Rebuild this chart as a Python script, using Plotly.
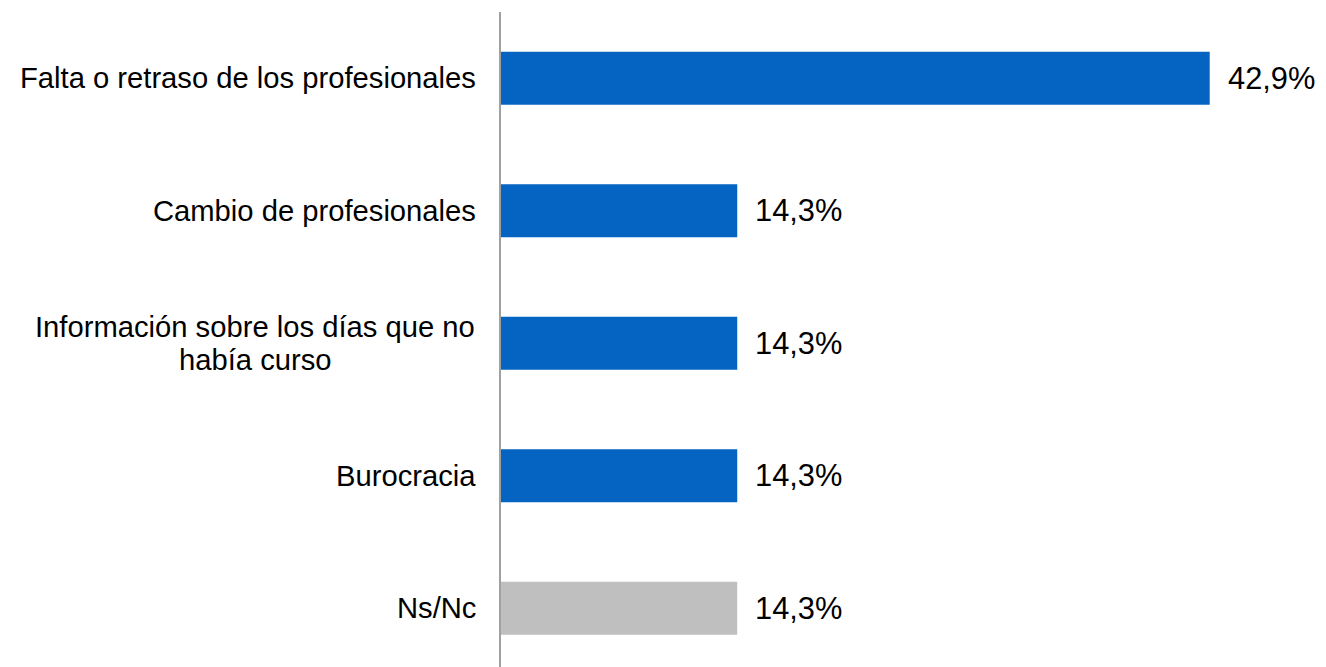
import plotly.graph_objects as go

categories = [
    "Falta o retraso de los profesionales",
    "Cambio de profesionales",
    "Información sobre los días que no<br>había curso",
    "Burocracia",
    "Ns/Nc",
]
values = [42.9, 14.3, 14.3, 14.3, 14.3]
value_labels = ["42,9%", "14,3%", "14,3%", "14,3%", "14,3%"]
bar_colors = ["#0563C1", "#0563C1", "#0563C1", "#0563C1", "#BFBFBF"]

FONT = "Liberation Sans, Arial, sans-serif"

W, H = 1326, 667
ML, MR, MT, MB = 501, 0, 12, 0
px_per_unit = 16.52
cat_step = 132.5

fig = go.Figure()
fig.add_trace(go.Bar(
    x=values,
    y=categories,
    orientation="h",
    marker=dict(color=bar_colors, line=dict(width=0)),
    width=0.4,
    hoverinfo="skip",
))

annotations = []
for cat, v, lab in zip(categories, values, value_labels):
    annotations.append(dict(
        x=v, y=cat, xref="x", yref="y", text=lab, showarrow=False,
        xanchor="left", yanchor="middle", xshift=16,
        font=dict(family=FONT, size=30.8, color="#000000"),
    ))

for cat in categories:
    lines = cat.split("<br>")
    n = len(lines)
    if n == 1:
        annotations.append(dict(
            x=0, y=cat, xref="paper", yref="y", text=cat, showarrow=False,
            xanchor="right", yanchor="middle", xshift=-23,
            font=dict(family=FONT, size=29.2, color="#000000"),
        ))
    else:
        for i, ln in enumerate(lines):
            annotations.append(dict(
                x=0, y=cat, xref="paper", yref="y", text=ln, showarrow=False,
                xanchor="center", yanchor="middle", xshift=-246,
                yshift=((n - 1) / 2 - i) * 33.3,
                font=dict(family=FONT, size=29.2, color="#000000"),
            ))

plot_w = W - ML - MR
plot_h = H - MT - MB

fig.update_layout(
    width=W, height=H,
    margin=dict(l=ML, r=MR, t=MT, b=MB, pad=0),
    paper_bgcolor="white", plot_bgcolor="white",
    showlegend=False,
    bargap=0.6,
    xaxis=dict(visible=False, range=[0, plot_w / px_per_unit], fixedrange=True),
    yaxis=dict(
        type="category", categoryorder="array", categoryarray=categories,
        range=[-0.5 + plot_h / cat_step, -0.5],
        showticklabels=False, ticks="", showgrid=False, zeroline=False,
        showline=True, linecolor="#A0A0A0", linewidth=2,
    ),
    annotations=annotations,
    font=dict(family=FONT),
)

fig.write_html(
    "out.html",
    config={"displayModeBar": False},
    post_script="document.body.style.margin='0px';document.body.style.overflow='hidden';",
)
